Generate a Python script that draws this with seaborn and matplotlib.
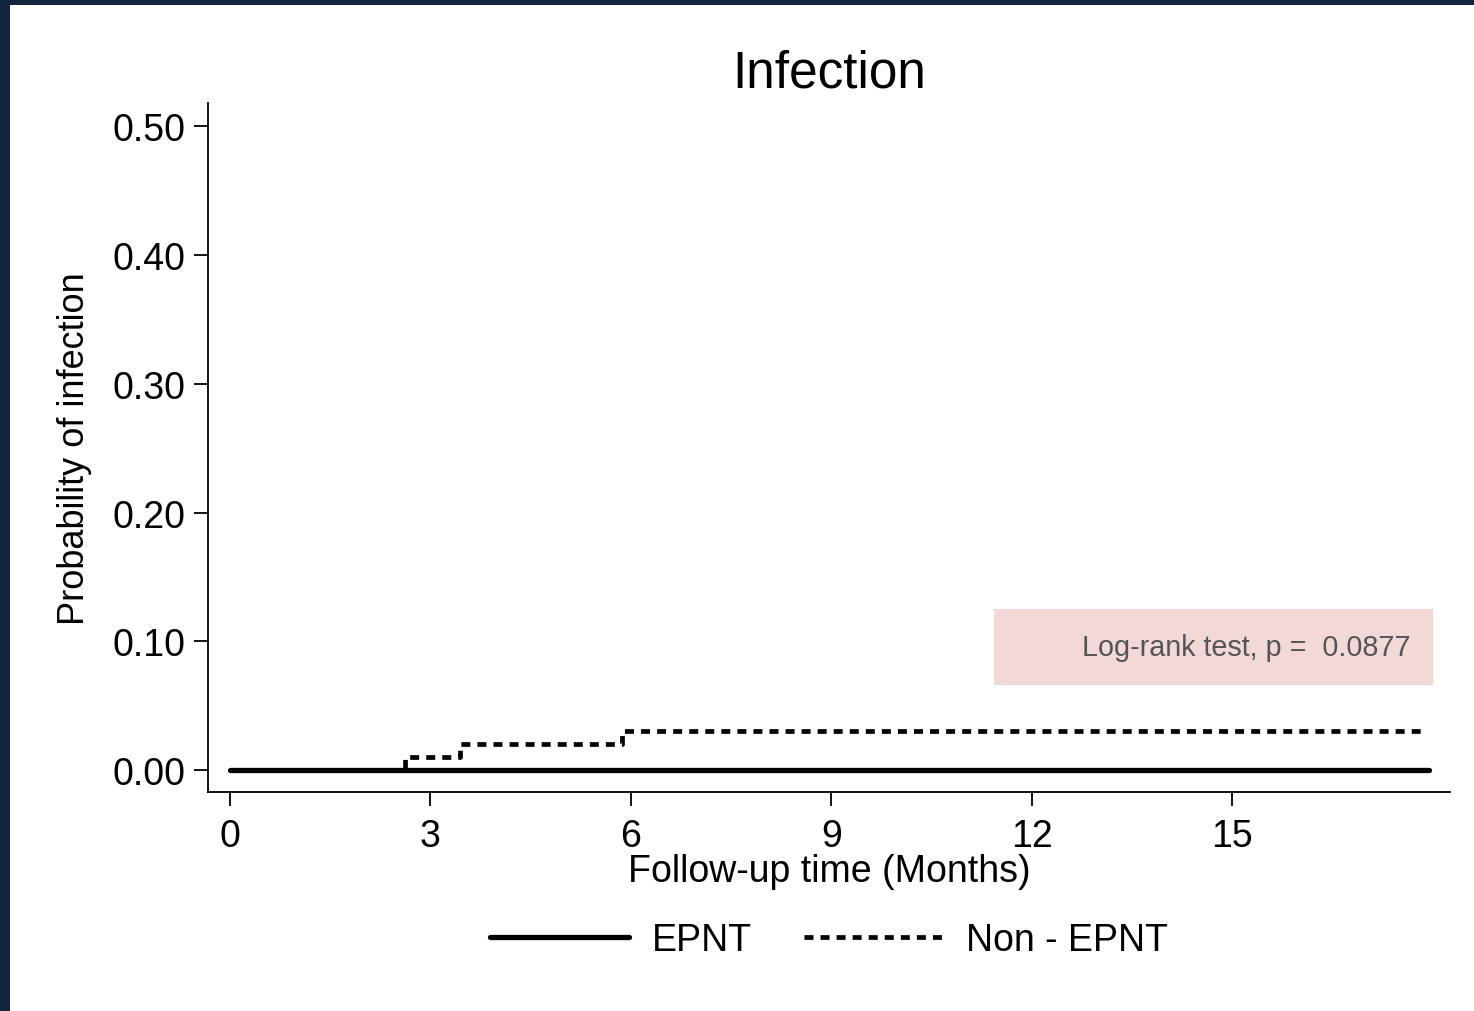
import matplotlib
matplotlib.use("Agg")
import matplotlib.pyplot as plt
import seaborn as sns
import pandas as pd
from matplotlib.patches import Rectangle

# Data
epnt_time = [0.0, 17.95]
epnt_prob = [0.0, 0.0]
non_time = [0.0, 2.62, 3.44, 5.87, 17.9]
non_prob = [0.0, 0.01, 0.02, 0.03, 0.03]
x_ticks = [0, 3, 6, 9, 12, 15]
y_ticks = [0.0, 0.1, 0.2, 0.3, 0.4, 0.5]
y_ticklabels = ["0.00", "0.10", "0.20", "0.30", "0.40", "0.50"]
title = "Infection"
xlabel = "Follow-up time (Months)"
ylabel = "Probability of infection"
annot = "Log-rank test, p =  0.0877"

sns.set_theme(style="white")
plt.rcParams['font.family'] = ['Liberation Sans', 'DejaVu Sans']
plt.rcParams['text.color'] = 'black'

fig = plt.figure(figsize=(14.74, 10.12), dpi=100)
fig.patch.set_facecolor("white")
ax = fig.add_axes([208/1474, 1-793/1012, (1450-208)/1474, (793-104)/1012])

df_e = pd.DataFrame({"time": epnt_time, "prob": epnt_prob})
df_n = pd.DataFrame({"time": non_time, "prob": non_prob})

sns.lineplot(data=df_n, x="time", y="prob", ax=ax, drawstyle="steps-post",
             color="black", lw=3.4, estimator=None, label="Non - EPNT",
             dashes=False)
ax.lines[-1].set_dashes((1.9, 1.5))
ax.lines[-1].set_dash_capstyle("butt")
sns.lineplot(data=df_e, x="time", y="prob", ax=ax, drawstyle="steps-post",
             color="black", lw=3.8, estimator=None, label="EPNT")
ax.lines[-1].set_zorder(3)

ax.set_xlim(-0.33, 18.26)
ax.set_ylim(-0.017, 0.518)
ax.set_xticks(x_ticks)
ax.set_xticklabels([str(t) for t in x_ticks])
ax.set_yticks(y_ticks)
ax.set_yticklabels(y_ticklabels)

for s in ["top", "right"]:
    ax.spines[s].set_visible(False)
for s in ["left", "bottom"]:
    ax.spines[s].set_color("black")
    ax.spines[s].set_linewidth(1.3)

ax.tick_params(axis="both", which="major", length=10, width=1.3, color="black",
               labelsize=27, labelcolor="black", direction="out",
               left=True, bottom=True)
ax.tick_params(axis="x", pad=9)
ax.tick_params(axis="y", pad=6)

ax.set_title(title, fontsize=37, color="black", pad=12)
ax.set_xlabel(xlabel, fontsize=27, color="black", labelpad=-1)
ax.set_ylabel(ylabel, fontsize=26, color="black", labelpad=15)

# Annotation box
x0 = (994-208)/(1450-208)
x1 = (1433-208)/(1450-208)
y0 = (793-686)/(793-104)
y1 = (793-610)/(793-104)
ax.add_patch(Rectangle((x0, y0), x1-x0, y1-y0, transform=ax.transAxes,
                       facecolor="#f2d9d8", edgecolor="none", zorder=1, clip_on=False))
ax.text((1411-208)/(1450-208), (y0+y1)/2, annot, transform=ax.transAxes,
        ha="right", va="center", fontsize=20.7, color="#555555", zorder=2)

# Legend
ax.get_legend().remove()
h_e = ax.lines[-1]
h_n = ax.lines[0]
leg = fig.legend([h_e, h_n], ["EPNT", "Non - EPNT"], loc="center",
                 bbox_to_anchor=(829/1474, 1-941/1012), ncol=2, frameon=False,
                 fontsize=27, handlelength=3.7, handletextpad=0.6,
                 columnspacing=1.4, labelcolor="black")

# Dark frame on left and top
fig.patches.append(Rectangle((0, 0), 10/1474, 1, transform=fig.transFigure,
                             facecolor="#12233f", edgecolor="none", zorder=10))
fig.patches.append(Rectangle((0, 1-6/1012), 1, 6/1012, transform=fig.transFigure,
                             facecolor="#12233f", edgecolor="none", zorder=10))

fig.savefig("out.png", dpi=100, facecolor="white")
